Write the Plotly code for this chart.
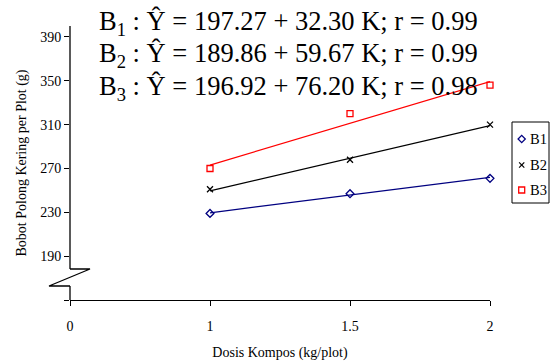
import plotly.graph_objects as go

# Compost dose levels (kg/plot) shown on the categorical x axis
dose_labels = ["0", "1", "1.5", "2"]
dose_obs = ["1", "1.5", "2"]
dose_num = [1.0, 1.5, 2.0]

# Observed dry pod weight per plot (g)
b1_obs = [229, 247, 261]
b2_obs = [251, 278, 310]
b3_obs = [270, 320, 346]

# Regression equations: intercept, slope, r
b1_fit = (197.27, 32.30, 0.99)
b2_fit = (189.86, 59.67, 0.99)
b3_fit = (196.92, 76.20, 0.98)

series_names = ["B1", "B2", "B3"]
y_ticks = [150, 190, 230, 270, 310, 350, 390]
y_ticktext = ["", "190", "230", "270", "310", "350", "390"]

FONT = "Liberation Serif"
colors = ["#000080", "#000000", "#FF0000"]
symbols = ["diamond-open", "x-thin-open", "square-open"]
sizes = [6, 6, 6]

L, R, T, B = 70, 63, 26, 64
W, H = 553, 364
PW, PH = W - L - R, H - T - B


def px(x):
    return (x - L) / PW


def py(y):
    return (H - B - y) / PH


fig = go.Figure()

for name, obs, fit, col, sym, sz in zip(series_names, [b1_obs, b2_obs, b3_obs],
                                        [b1_fit, b2_fit, b3_fit], colors, symbols, sizes):
    a, b, _ = fit
    fig.add_trace(go.Scatter(
        x=dose_obs, y=[a + b * k for k in dose_num], mode="lines",
        line=dict(color=col, width=1.2), showlegend=False, hoverinfo="skip",
        cliponaxis=False))
    fig.add_trace(go.Scatter(
        x=dose_obs, y=obs, mode="markers", name=name, showlegend=False,
        cliponaxis=False,
        marker=dict(symbol=sym, size=sz, color=col, line=dict(color=col, width=1.3))))

shapes = [
    # legend frame
    dict(type="rect", xref="paper", yref="paper", x0=px(512), x1=px(549),
         y0=py(203), y1=py(122), line=dict(color="black", width=1)),
    # y axis drawn in two parts with a break symbol
    dict(type="line", xref="paper", yref="paper", x0=0, x1=0, y0=py(269), y1=1,
         line=dict(color="black", width=1.3)),
    dict(type="line", xref="paper", yref="paper", x0=0, x1=0, y0=0, y1=py(286),
         line=dict(color="black", width=1.3)),
    dict(type="path", xref="paper", yref="paper",
         path=f"M {px(70)} {py(269)} L {px(90)} {py(269)} L {px(49)} {py(286)} L {px(70)} {py(286)}",
         line=dict(color="black", width=1.3)),
]

# Legend keys and labels
leg_x = 521.7
leg_y = [139, 165, 190]
cx, cy = leg_x, leg_y[0]
shapes.append(dict(type="path", xref="paper", yref="paper",
                   path=f"M {px(cx - 3.6)} {py(cy)} L {px(cx)} {py(cy - 3.6)} "
                        f"L {px(cx + 3.6)} {py(cy)} L {px(cx)} {py(cy + 3.6)} Z",
                   line=dict(color=colors[0], width=1.3)))
cy = leg_y[1]
for dx in (-1, 1):
    shapes.append(dict(type="line", xref="paper", yref="paper",
                       x0=px(cx - 2.6 * dx), x1=px(cx + 2.6 * dx),
                       y0=py(cy - 2.6), y1=py(cy + 2.6),
                       line=dict(color=colors[1], width=1.2)))
cy = leg_y[2]
shapes.append(dict(type="rect", xref="paper", yref="paper",
                   x0=px(cx - 3), x1=px(cx + 3), y0=py(cy + 3), y1=py(cy - 3),
                   line=dict(color=colors[2], width=1.3)))

for name, yy in zip(series_names, leg_y):
    fig.add_annotation(x=px(529), y=py(yy), xref="paper", yref="paper",
                       text=name, showarrow=False, xanchor="left", yanchor="middle",
                       borderpad=0, font=dict(family=FONT, size=14.5, color="black"))

# Regression equations
eqs = [("1", b1_fit), ("2", b2_fit), ("3", b3_fit)]
eq_y = [23, 55, 88]
for (sub, (a, b, r)), yy in zip(eqs, eq_y):
    fig.add_annotation(
        x=px(98), y=py(yy), xref="paper", yref="paper", showarrow=False,
        xanchor="left", yanchor="middle", borderpad=0,
        text=f"B<sub>{sub}</sub> : Ŷ = {a:.2f} + {b:.2f} K; r = {r:.2f}",
        font=dict(family=FONT, size=26.5, color="black"))

fig.update_layout(
    width=W, height=H,
    margin=dict(l=L, r=R, t=T, b=B, autoexpand=False),
    paper_bgcolor="white", plot_bgcolor="white",
    font=dict(family=FONT, size=14, color="black"),
    shapes=shapes,
    xaxis=dict(type="category", categoryorder="array", categoryarray=dose_labels,
               tickvals=dose_labels, ticktext=dose_labels, range=[0, 3],
               showline=True, linecolor="black", linewidth=1.3,
               ticks="outside", ticklen=5, tickcolor="black", tickwidth=1.3,
               ticklabelstandoff=8, showgrid=False, zeroline=False,
               title=dict(text="Dosis Kompos (kg/plot)", standoff=14,
                          font=dict(family=FONT, size=14))),
    yaxis=dict(range=[150, 400], tickvals=y_ticks, ticktext=y_ticktext,
               showline=False, ticks="outside", ticklen=5, tickcolor="black",
               tickwidth=1.3, showgrid=False, zeroline=False,
               title=dict(text="Bobot Polong Kering per Plot (g)", standoff=10,
                          font=dict(family=FONT, size=14))),
)

fig.write_html("out.html")
